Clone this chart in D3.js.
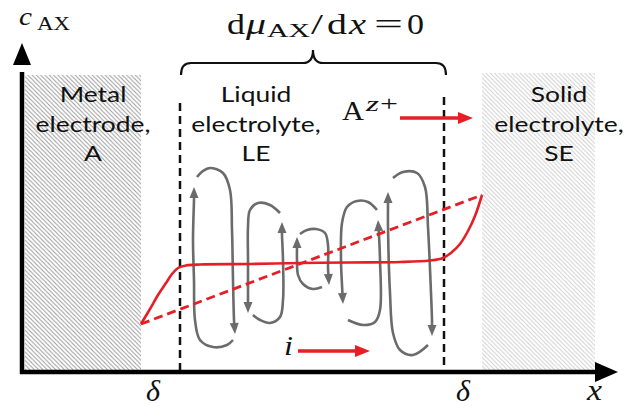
<!DOCTYPE html>
<html><head><meta charset="utf-8">
<script src="https://cdn.jsdelivr.net/npm/d3@7"></script>
<style>
html,body{margin:0;padding:0;background:#fff;}
svg{display:block;}
</style>
</head><body>
<svg id="c" width="626" height="406"></svg>
<script>
// ---- data (units: x along the cell, c = concentration c_AX) ----
const regions = [
  {name:"metal", x0:3, x1:119, top:297, shade:"#9a9a9a"},
  {name:"solid", x0:460, x1:573, top:299, shade:"#cfcfcf"}
];
const regionLabels = [
  {x:71, lines:["Metal","electrode,","A"]},
  {x:234, lines:["Liquid","electrolyte,","LE"]},
  {x:537, lines:["Solid","electrolyte,","SE"]}
];
const labelRows = [270, 240, 211];
const boundaries = [{x:158, top:269}, {x:422, top:275}];
const profileX = [119,128,136,144,150,156,164,178,228,278,328,378,408,421,430,438,446,453,460];
const profileC = [48,63,77,89,98,104,106.5,107.5,108,109,109.5,110,111.5,114,120,128,141,156,177];
const linearX = [119, 460];
const linearC = [48, 177];
// circulation hooks: each list ends at the arrow tip
const hooks = [
  [[211,32],[205,27],[191,25],[178,32],[173,52],[172,92],[171,132],[172,172],[172,185]],
  [[175,195],[181,201],[188,204],[201,199],[208,182],[210,142],[211,92],[212,52],[213,38]],
  [[258,159],[248,167],[236,169],[228,162],[226,145],[226,112],[226,82],[226,59]],
  [[231,57],[238,52],[248,49],[258,55],[261,72],[261,112],[260,137],[260,150]],
  [[300,85],[291,83],[281,88],[276,97],[275,112],[275,135]],
  [[278,138],[285,142],[294,143],[303,139],[306,127],[306,104],[307,87]],
  [[355,162],[346,170],[335,171],[325,165],[320,149],[319,112],[320,87],[321,68]],
  [[326,52],[341,47],[353,50],[358,62],[358,112],[357,137],[356,152]],
  [[406,27],[391,17],[378,22],[371,39],[368,79],[366,145],[366,167],[366,180]],
  [[371,194],[381,200],[395,199],[403,185],[406,145],[409,79],[410,52],[410,36]]
];
const redArrows = [
  {x0:378, x1:451, c:254},
  {x0:276, x1:348, c:21}
];
const brace = {x0:159, x1:424, mid:291, c:297, c1:309, tip:322};
// math labels: text, left x, baseline y, font size, width, italic
const mathLabels = [
  ["c",19,25,25,13,true], ["AX",37,30,18,33,false],
  ["d",227,34,29,18,false], ["μ",246,34,29,20,true], ["AX",267,37,18,43,false],
  ["/",311,34,29,12,false], ["d",327,34,29,20,false], ["x",349,34,29,17,true],
  ["=",374,34,29,29,false], ["0",407,34,29,17,false],
  ["A",342,120,28,22,false], ["z",366,111,20,13,true], ["+",380,111,20,18,false],
  ["i",284,355,28,9,true],
  ["δ",146,401,29,14,true], ["δ",456,401,29,14,true], ["x",587,400,30,15,true]
];

// ---- scales ----
const xS = d3.scaleLinear().domain([0,596]).range([22,618]);
const yS = d3.scaleLinear().domain([0,330]).range([372,42]);

const svg = d3.select("#c");
const defs = svg.append("defs");
regions.forEach(r=>{
  const p = defs.append("pattern").attr("id","h_"+r.name).attr("patternUnits","userSpaceOnUse")
    .attr("width",4.3).attr("height",4.3);
  p.append("path").attr("d","M-1,-1 L5.3,5.3 M-1,3.3 L1,5.3 M3.3,-1 L5.3,1")
    .attr("stroke",r.shade).attr("stroke-width",1);
});

// regions
svg.selectAll("rect.reg").data(regions).join("rect")
  .attr("x",d=>xS(d.x0)).attr("width",d=>xS(d.x1)-xS(d.x0))
  .attr("y",d=>yS(d.top)).attr("height",d=>yS(0)-yS(d.top)+1)
  .attr("fill",d=>"url(#h_"+d.name+")");

// region labels (wide sans, stretched horizontally)
regionLabels.forEach(l=>{
  l.lines.forEach((t,i)=>{
    svg.append("g").attr("transform",`translate(${xS(l.x)},${yS(labelRows[i])}) scale(1.2,1)`)
      .append("text").style("font-family","Lato, 'Open Sans', sans-serif").style("font-size","22px")
      .attr("fill","#111").attr("text-anchor","middle").text(t);
  });
});

// boundaries
svg.selectAll("line.bd").data(boundaries).join("line")
  .attr("x1",d=>xS(d.x)).attr("x2",d=>xS(d.x)).attr("y1",d=>yS(d.top)).attr("y2",yS(0))
  .attr("stroke","#111").attr("stroke-width",2.5).attr("stroke-dasharray","8,5");

// brace
{
  const b = brace, bp = d3.path();
  const X = xS, Y = yS;
  bp.moveTo(X(b.x0), Y(b.c));
  bp.quadraticCurveTo(X(b.x0), Y(b.c1), X(b.x0+10), Y(b.c1));
  bp.lineTo(X(b.mid-10), Y(b.c1));
  bp.quadraticCurveTo(X(b.mid), Y(b.c1), X(b.mid), Y(b.tip));
  bp.quadraticCurveTo(X(b.mid), Y(b.c1), X(b.mid+10), Y(b.c1));
  bp.lineTo(X(b.x1-10), Y(b.c1));
  bp.quadraticCurveTo(X(b.x1), Y(b.c1), X(b.x1), Y(b.c));
  svg.append("path").attr("d",bp.toString()).attr("fill","none").attr("stroke","#111").attr("stroke-width",2.2);
}

// grey circulation hooks with arrowheads
const grey = "#6b6b6b";
const hookLine = d3.line().x(d=>d[0]).y(d=>d[1]).curve(d3.curveCatmullRom.alpha(0.5));
hooks.forEach(h=>{
  const pts = h.map(p=>[xS(p[0]), yS(p[1])]);
  const tip = pts[pts.length-1], prev = pts[pts.length-2];
  const dx = tip[0]-prev[0], dy = tip[1]-prev[1], L = Math.hypot(dx,dy);
  const ux = dx/L, uy = dy/L, hl = 11, hw = 4.5;
  const base = [tip[0]-ux*hl, tip[1]-uy*hl];
  const linePts = pts.slice(0,-1).concat([base]);
  svg.append("path").attr("d",hookLine(linePts)).attr("fill","none").attr("stroke",grey).attr("stroke-width",2.6);
  svg.append("path").attr("d",`M${tip[0]},${tip[1]}L${base[0]-uy*hw},${base[1]+ux*hw}L${base[0]+uy*hw},${base[1]-ux*hw}Z`).attr("fill",grey);
});

// red profiles
const red = "#e61e25";
const prof = profileX.map((x,i)=>[x, profileC[i]]);
svg.append("path").attr("d", d3.line().x(d=>xS(d[0])).y(d=>yS(d[1])).curve(d3.curveCatmullRom.alpha(0.5))(prof))
  .attr("fill","none").attr("stroke",red).attr("stroke-width",2.6);
svg.append("path").attr("d", d3.line().x(d=>xS(d[0])).y(d=>yS(d[1]))(linearX.map((x,i)=>[x,linearC[i]])))
  .attr("fill","none").attr("stroke",red).attr("stroke-width",2.8).attr("stroke-dasharray","9,5");

// red arrows
redArrows.forEach(a=>{
  const x0=xS(a.x0), x1=xS(a.x1), y=yS(a.c);
  svg.append("line").attr("x1",x0).attr("x2",x1-12).attr("y1",y).attr("y2",y).attr("stroke",red).attr("stroke-width",3.5);
  svg.append("path").attr("d",`M${x1},${y}L${x1-15},${y-6}L${x1-15},${y+6}Z`).attr("fill",red);
});

// axes
svg.append("line").attr("x1",xS(0)).attr("x2",xS(0)).attr("y1",yS(0)+2).attr("y2",yS(300)).attr("stroke","#000").attr("stroke-width",4.5);
svg.append("path").attr("d",`M${xS(0)},${yS(329)}L${xS(0)-9},${yS(307)}L${xS(0)+9},${yS(307)}Z`).attr("fill","#000");
svg.append("line").attr("x1",xS(0)-2).attr("x2",xS(575)).attr("y1",yS(0)).attr("y2",yS(0)).attr("stroke","#000").attr("stroke-width",4.5);
svg.append("path").attr("d",`M${xS(596)},${yS(0)}L${xS(573)},${yS(-10)}L${xS(573)},${yS(10)}Z`).attr("fill","#000");

// math labels (serif), each fitted to the width
const SERIF = "'Liberation Serif', 'DejaVu Serif', 'Times New Roman', serif";
svg.selectAll("text.math").data(mathLabels).join("text").attr("class","math")
  .style("font-family",SERIF).style("font-size",d=>d[3]+"px")
  .style("font-style",d=>d[5]?"italic":"normal").attr("fill","#111")
  .attr("x",d=>d[1]).attr("y",d=>d[2])
  .attr("textLength",d=>d[4]).attr("lengthAdjust","spacingAndGlyphs")
  .text(d=>d[0]);
</script>
</body></html>
